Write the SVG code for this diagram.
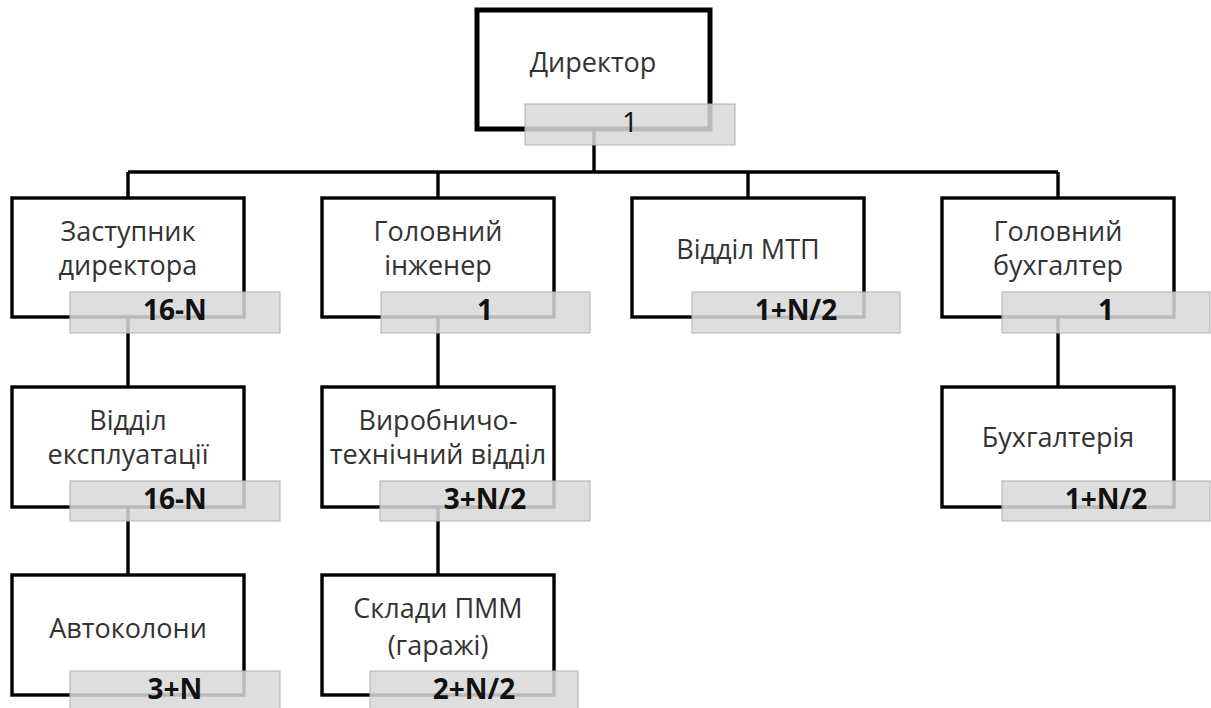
<svg xmlns="http://www.w3.org/2000/svg" width="1211" height="708" viewBox="0 0 1211 708">
<style>
.box{fill:#fff;stroke:#000;stroke-width:3.4}
.dir{stroke-width:5}
.lbl{fill:#d9d9d9;fill-opacity:0.86;stroke:#b0b0b0;stroke-width:1}
.name{font-family:"Open Sans","Noto Sans","Liberation Sans",sans-serif;font-size:27px;fill:#333;text-anchor:middle}
.num{font-family:"Open Sans","Noto Sans","Liberation Sans",sans-serif;font-size:28px;font-weight:bold;fill:#111;text-anchor:middle}
.numr{font-weight:normal}
.conn{fill:none;stroke:#000;stroke-width:3.4}
</style>
<rect width="1211" height="708" fill="#fff"/>
<g id="connectors">
<path class="conn" d="M594,129 V172 M128,172 H1058 M128,172 V198 M438,172 V198 M748,172 V198 M1058,172 V198"/>
<path class="conn" d="M128,317 V387 M128,507 V575 M438,317 V387 M438,507 V575 M1058,317 V387"/>
</g>
<g id="director">
<rect class="box dir" x="477" y="10" width="233" height="119"/>
<text class="name" x="593" y="72">Директор</text>
<rect class="lbl" x="525" y="104" width="210" height="41"/>
<text class="num numr" x="630" y="132">1</text>
</g>
<g id="deputy">
<rect class="box" x="12" y="198" width="232" height="119"/>
<text class="name" x="128" y="241">Заступник</text>
<text class="name" x="128" y="275">директора</text>
<rect class="lbl" x="70" y="292" width="210" height="41"/>
<text class="num" x="175" y="320">16-N</text>
</g>
<g id="chief-engineer">
<rect class="box" x="322" y="198" width="232" height="119"/>
<text class="name" x="438" y="241">Головний</text>
<text class="name" x="438" y="275">інженер</text>
<rect class="lbl" x="381" y="292" width="209" height="41"/>
<text class="num" x="485" y="320">1</text>
</g>
<g id="mtp">
<rect class="box" x="632" y="198" width="232" height="119"/>
<text class="name" x="748" y="259">Відділ МТП</text>
<rect class="lbl" x="692" y="292" width="208" height="41"/>
<text class="num" x="796" y="320">1+N/2</text>
</g>
<g id="chief-accountant">
<rect class="box" x="942" y="198" width="232" height="119"/>
<text class="name" x="1058" y="241">Головний</text>
<text class="name" x="1058" y="275">бухгалтер</text>
<rect class="lbl" x="1002" y="292" width="208" height="41"/>
<text class="num" x="1106" y="320">1</text>
</g>
<g id="operations">
<rect class="box" x="12" y="387" width="232" height="120"/>
<text class="name" x="128" y="430">Відділ</text>
<text class="name" x="128" y="464">експлуатації</text>
<rect class="lbl" x="70" y="481" width="210" height="40"/>
<text class="num" x="175" y="509">16-N</text>
</g>
<g id="production">
<rect class="box" x="322" y="387" width="232" height="120"/>
<text class="name" x="438" y="430">Виробничо-</text>
<text class="name" x="438" y="464">технічний відділ</text>
<rect class="lbl" x="380" y="481" width="210" height="40"/>
<text class="num" x="485" y="509">3+N/2</text>
</g>
<g id="accounting">
<rect class="box" x="942" y="387" width="232" height="120"/>
<text class="name" x="1058" y="447">Бухгалтерія</text>
<rect class="lbl" x="1002" y="481" width="208" height="40"/>
<text class="num" x="1106" y="509">1+N/2</text>
</g>
<g id="motorcades">
<rect class="box" x="12" y="575" width="232" height="120"/>
<text class="name" x="128" y="638">Автоколони</text>
<rect class="lbl" x="70" y="671" width="210" height="41"/>
<text class="num" x="175" y="699">3+N</text>
</g>
<g id="warehouses">
<rect class="box" x="322" y="575" width="232" height="120"/>
<text class="name" x="438" y="618">Склади ПММ</text>
<text class="name" x="438" y="655">(гаражі)</text>
<rect class="lbl" x="370" y="671" width="208" height="41"/>
<text class="num" x="474" y="699">2+N/2</text>
</g>
</svg>
